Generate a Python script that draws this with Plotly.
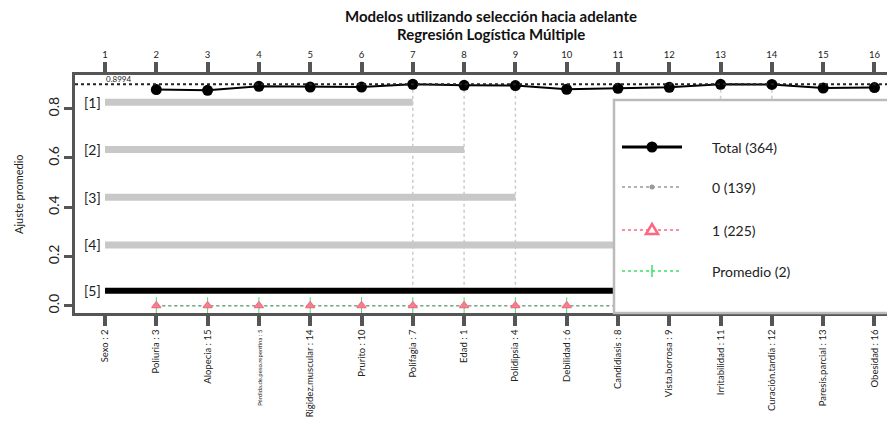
import plotly.graph_objects as go

# ---------------- data ----------------
model_sizes = list(range(1, 17))
var_labels = ["Sexo : 2", "Poliuria : 3", "Alopecia : 15", "Pérdida.de.peso.repentina : 5",
              "Rigidez.muscular : 14", "Prurito : 10", "Polifagia : 7", "Edad : 1",
              "Polidipsia : 4", "Debilidad : 6", "Candidiasis : 8", "Vista.borrosa : 9",
              "Irritabilidad : 11", "Curación.tardía : 12", "Paresis.parcial : 13", "Obesidad : 16"]
y_ticks = [0.0, 0.2, 0.4, 0.6, 0.8]
y_ticktext = ["0.0", "0.2", "0.4", "0.6", "0.8"]

total_x = [2, 3, 4, 5, 6, 7, 8, 9, 10, 11, 12, 13, 14, 15, 16]
total_y = [0.878, 0.875, 0.891, 0.888, 0.888, 0.8994, 0.895, 0.894, 0.879, 0.883,
           0.887, 0.8992, 0.8988, 0.884, 0.886]
class0_y = [0.0, 0.0, 0.0, 0.0, 0.0, 0.0, 0.0, 0.0, 0.0, 0.0, 0.0, 0.0, 0.0, 0.0, 0.0]
class1_y = [0.0, 0.0, 0.0, 0.0, 0.0, 0.0, 0.0, 0.0, 0.0, 0.0, 0.0, 0.0, 0.0, 0.0, 0.0]
promedio_y = [0.0, 0.0, 0.0, 0.0, 0.0, 0.0, 0.0, 0.0, 0.0, 0.0, 0.0, 0.0, 0.0, 0.0, 0.0]

best_labels = ["[1]", "[2]", "[3]", "[4]", "[5]"]
best_levels = [0.826, 0.634, 0.440, 0.247, 0.061]
best_ends = [7, 8, 9, 13, 14]

legend_names = ["Total (364)", "0 (139)", "1 (225)", "Promedio (2)"]

# ---------------- geometry helpers ----------------
OFF = 8  # page body margin
W, H = 895 - OFF, 425 - OFF
# plot area in page pixel coordinates
PL, PR, PT, PB = 75, 895, 75, 313
XR = [0.415, 16.4]
YR = [-0.0296, 0.9370]
FONT = "Lato"
AX = "#555555"


def px(xp):
    return (xp - PL) / (PR - PL)


def py(yp):
    return (PB - yp) / (PB - PT)


fig = go.Figure()

# vertical guide lines for best models
for lvl_end in best_ends:
    yv = total_y[total_x.index(lvl_end)]
    fig.add_trace(go.Scatter(x=[lvl_end, lvl_end], y=[best_levels[-1], yv], mode="lines",
                             line=dict(color="#cccccc", width=1.5, dash="dot"),
                             showlegend=False, hoverinfo="skip"))

# horizontal bars for best models
for i, (lab, lvl, end) in enumerate(zip(best_labels, best_levels, best_ends)):
    last = i == len(best_labels) - 1
    fig.add_trace(go.Scatter(x=[model_sizes[0], end], y=[lvl, lvl], mode="lines",
                             line=dict(color="#000000" if last else "#c8c8c8", width=6 if last else 7),
                             showlegend=False, hoverinfo="skip"))
    fig.add_annotation(x=model_sizes[0], y=lvl, text=lab, showarrow=False, xanchor="right",
                       xshift=-2, font=dict(family=FONT, size=14, color="#222"))

# max line
ymax = max(total_y)
fig.add_shape(type="line", xref="paper", yref="y", x0=0, x1=1, y0=ymax, y1=ymax,
              line=dict(color="#222", width=2, dash="dot"))
fig.add_annotation(x=model_sizes[0], y=ymax, text=f"{ymax:.4f}", showarrow=False,
                   xanchor="left", yanchor="bottom", yshift=-2, xshift=-1,
                   font=dict(family=FONT, size=8, color="#222"))

# category series
fig.add_trace(go.Scatter(x=total_x, y=promedio_y, mode="lines+markers",
                         line=dict(color="#3ee06a", width=1.5, dash="dot"),
                         marker=dict(symbol="line-ns", size=12, line=dict(color="#3ee06a", width=1)),
                         showlegend=False, hoverinfo="skip"))
fig.add_trace(go.Scatter(x=total_x, y=class0_y, mode="lines+markers",
                         line=dict(color="#999999", width=1.2, dash="dot"),
                         marker=dict(symbol="circle", size=5, color="#999999"),
                         showlegend=False, hoverinfo="skip"))
fig.add_trace(go.Scatter(x=total_x, y=class1_y, mode="markers",
                         marker=dict(symbol="triangle-up", size=8, color="rgba(255,130,150,0.75)",
                                     line=dict(color="#ff6680", width=1.2)),
                         showlegend=False, hoverinfo="skip"))

# total
fig.add_trace(go.Scatter(x=total_x, y=total_y, mode="lines+markers",
                         line=dict(color="#000", width=2),
                         marker=dict(symbol="circle", size=11, color="#000"),
                         showlegend=False, hoverinfo="skip"))

# dummy trace for top axis
fig.add_trace(go.Scatter(x=model_sizes, y=[None] * 16, xaxis="x2", showlegend=False,
                         hoverinfo="skip", mode="markers"))

# ---------------- manual legend ----------------
shapes = []
shapes.append(dict(type="rect", xref="paper", yref="paper", x0=px(614), x1=1.05, y0=py(313), y1=py(100),
                   fillcolor="white", line=dict(color="#bbbbbb", width=2.5), layer="above"))
rows = [147, 187, 230, 271]
colors = ["#000000", "#999999", "#ff6680", "#3ee06a"]
dashes = ["solid", "dot", "dot", "dot"]
widths = [3, 1.5, 1.5, 1.5]
for r, c, d, w in zip(rows, colors, dashes, widths):
    shapes.append(dict(type="line", xref="paper", yref="paper", x0=px(622), x1=px(682),
                       y0=py(r), y1=py(r), line=dict(color=c, width=w, dash=d), layer="above"))
# markers
shapes.append(dict(type="circle", xref="paper", yref="paper", x0=px(646.5), x1=px(657.5),
                   y0=py(152.5), y1=py(141.5), fillcolor="#000", line=dict(color="#000", width=0), layer="above"))
shapes.append(dict(type="circle", xref="paper", yref="paper", x0=px(649.5), x1=px(654.5),
                   y0=py(189.5), y1=py(184.5), fillcolor="#999", line=dict(color="#999", width=0), layer="above"))
tri = f"M {px(646)} {py(234)} L {px(658)} {py(234)} L {px(652)} {py(224)} Z"
shapes.append(dict(type="path", xref="paper", yref="paper", path=tri, fillcolor="white",
                   line=dict(color="#ff6680", width=2.5), layer="above"))
shapes.append(dict(type="line", xref="paper", yref="paper", x0=px(652), x1=px(652),
                   y0=py(277), y1=py(265), line=dict(color="#3ee06a", width=1.5), layer="above"))
for s in shapes:
    fig.add_shape(**s)
for r, name in zip(rows, legend_names):
    fig.add_annotation(xref="paper", yref="paper", x=px(710), y=py(r), text=name, showarrow=False,
                       xanchor="left", yanchor="middle", font=dict(family=FONT, size=14, color="#222"))

# title & y title
fig.add_annotation(xref="paper", yref="paper", x=px(491), y=py(16), text="<b>Modelos utilizando selección hacia adelante</b>",
                   showarrow=False, xanchor="center", yanchor="middle", font=dict(family=FONT, size=15, color="#111"))
fig.add_annotation(xref="paper", yref="paper", x=px(491), y=py(34), text="<b>Regresión Logística Múltiple</b>",
                   showarrow=False, xanchor="center", yanchor="middle", font=dict(family=FONT, size=15, color="#111"))
fig.add_annotation(xref="paper", yref="paper", x=px(18), y=py(194), text="Ajuste promedio", textangle=-90,
                   showarrow=False, xanchor="center", yanchor="middle", font=dict(family=FONT, size=11, color="#222"))

bottom_text = [(f'<span style="font-size:6px">{t}</span>' if len(t) > 22 else t) for t in var_labels]

fig.update_layout(
    width=W, height=H,
    margin=dict(l=PL - OFF, r=W - (PR - OFF), t=PT - OFF, b=H - (PB - OFF), pad=0),
    plot_bgcolor="white", paper_bgcolor="white", showlegend=False,
    font=dict(family=FONT, color="#222"),
    xaxis=dict(range=XR, tickvals=model_sizes, ticktext=bottom_text, tickangle=-90, automargin=False,
               ticks="outside", ticklen=10, tickwidth=4, tickcolor=AX, showline=True, linecolor=AX,
               linewidth=2.5, showgrid=False, zeroline=False, tickfont=dict(family=FONT, size=9.5, color="#222")),
    xaxis2=dict(range=XR, overlaying="x", side="top", tickvals=model_sizes, automargin=False,
                ticktext=[str(v) for v in model_sizes], ticks="outside", ticklen=10, tickwidth=4,
                tickcolor=AX, showline=True, linecolor=AX, linewidth=2.5, showgrid=False, zeroline=False,
                tickfont=dict(family=FONT, size=9.5, color="#222")),
    yaxis=dict(range=YR, tickvals=y_ticks, ticktext=y_ticktext, tickangle=-90, ticks="outside",
               ticklen=8, tickwidth=3, tickcolor=AX, showline=True, linecolor=AX, linewidth=2.5,
               automargin=False,
               showgrid=False, zeroline=False, tickfont=dict(family=FONT, size=14, color="#222")),
)

fig.write_html("out.html")
